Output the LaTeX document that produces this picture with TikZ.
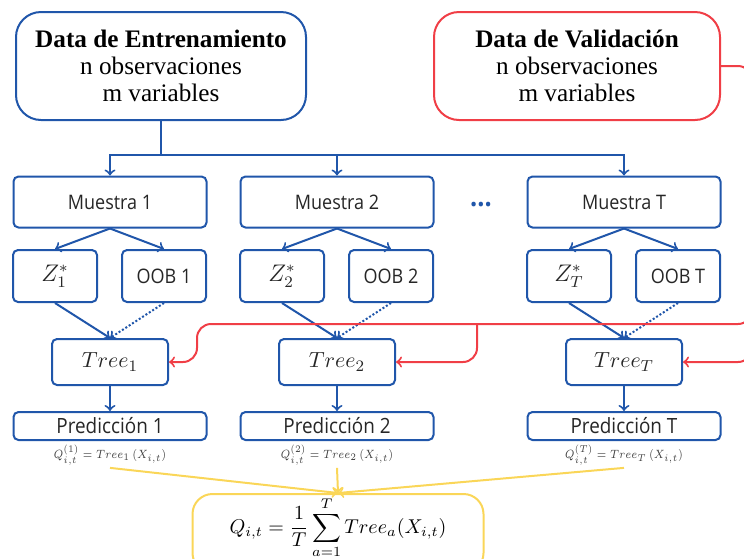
\documentclass[tikz,border=0pt]{standalone}
\usepackage{amsmath}
\usepackage{graphicx}
\usepackage{fontspec}
\usepackage{xcolor}
\usepackage{tikz}
\usetikzlibrary{arrows, positioning, calc}
\newfontfamily\hdfont{Liberation Serif}
\newfontfamily\bxfont[FakeStretch=0.9]{Open Sans}
\definecolor{rfblue}{RGB}{32,86,170}
\definecolor{rfred}{RGB}{240,62,70}
\definecolor{rfyellow}{RGB}{250,214,88}

\begin{document}
\begin{tikzpicture}[x=0.5pt, y=-0.5pt,
    box/.style={draw=rfblue, line width=1pt, rounded corners=2.5pt, inner sep=0pt, align=center, text=black!85},
    databox/.style={line width=1pt, rounded corners=12.5pt, minimum width=145pt, minimum height=54pt, inner sep=0pt, align=center, font=\hdfont\fontsize{12.6}{13.5}\selectfont},
    bline/.style={rfblue, line width=1pt},
    rline/.style={rfred, line width=1pt, rounded corners=7pt},
    yline/.style={rfyellow, line width=1pt}]
    \useasboundingbox (0,0) rectangle (744,558);
    \clip (0,0) rectangle (744,558);

    % Data boxes
    \node[databox, draw=rfblue] (train) at (161,66) {\textbf{Data de Entrenamiento}\\n observaciones\\m variables};
    \node[databox, draw=rfred, minimum width=143pt] (valid) at (577,66) {\textbf{Data de Validación}\\n observaciones\\m variables};

    % Columns: samples, Z / OOB, trees, predictions
    \foreach \i/\x in {1/110, 2/337, T/624} {
        \node[box, minimum width=96.5pt, minimum height=25.5pt, font=\bxfont\fontsize{10}{12}\selectfont] (m\i) at (\x,202) {Muestra \i};
        \node[box, minimum width=42pt, minimum height=26pt, font=\fontsize{12}{14}\selectfont] (z\i) at (\x-55,276) {$Z_{\i}^{*}$};
        \node[box, minimum width=42pt, minimum height=26pt, font=\bxfont\fontsize{10}{12}\selectfont] (o\i) at (\x+54,276) {OOB \i};
        \node[box, minimum width=58pt, minimum height=23pt, font=\fontsize{11}{13}\selectfont] (t\i) at (\x,362) {$Tree_{\i}$};
        \node[box, minimum width=96.5pt, minimum height=14pt, font=\bxfont\fontsize{10.5}{12}\selectfont] (p\i) at (\x,426) {Predicción \i};
        \node[inner sep=1pt, text=black!75, font=\fontsize{6}{7}\selectfont] (f\i) at (\x,455) {\scalebox{0.85}[1]{$Q^{(\i)}_{i,t} = Tree_{\i}\,(X_{i,t})$}};

        \draw[bline, ->] (m\i.south) -- (z\i.north);
        \draw[bline, ->] (m\i.south) -- (o\i.north);
        \draw[bline, ->] (z\i.south) -- (t\i.north);
        \draw[bline, ->, densely dotted] (o\i.south) -- (t\i.north);
        \draw[bline, ->] (t\i.south) -- (p\i.north);
    }

    % Dots between columns
    \node[text=rfblue, font=\bxfont\bfseries\fontsize{14}{14}\selectfont] (dots) at (481,205) {...};

    % Split of the training data
    \coordinate (split) at (161,155);
    \draw[bline] (train.south) -- (split);
    \draw[bline, ->] (split) -| (m1.north);
    \draw[bline, ->] (split) -| (m2.north);
    \draw[bline, ->] (split) -| (mT.north);

    % Validation data into the trees
    \coordinate (redR) at (752,300);
    \coordinate (redH) at (752,324);
    \coordinate (redL) at (197,324);
    \coordinate (redM) at (477,324);
    \draw[rline, ->] (valid.east) -| (752,362) -- (tT.east);
    \draw[rline, ->] (redR) -- (redH) -- (redL) |- (t1.east);
    \draw[rline, ->] (redM) |- (t2.east);

    % Aggregation
    \node[draw=rfyellow, line width=1pt, rounded corners=10pt, minimum width=145.5pt, inner sep=0pt, text height=19.5pt, text depth=20pt, anchor=base, font=\fontsize{9.8}{12}\selectfont] (q) at (338,533) {$\displaystyle Q_{i,t} = \frac{1}{T}\sum_{a=1}^{T} Tree_{a}(X_{i,t})$};
    \draw[yline, ->] (f1.south) -- (q.north);
    \draw[yline, ->] (f2.south) -- (q.north);
    \draw[yline, ->] (fT.south) -- (q.north);
\end{tikzpicture}
\end{document}
